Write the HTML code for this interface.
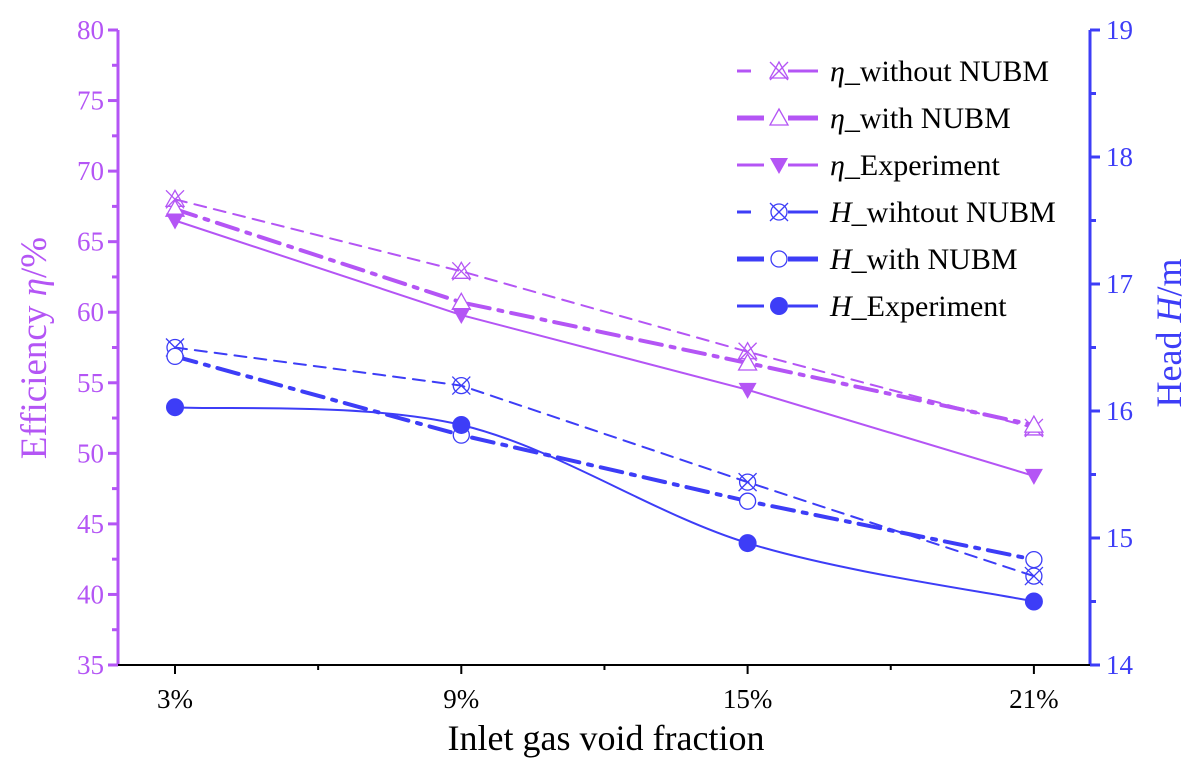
<!DOCTYPE html>
<html><head><meta charset="utf-8"><style>
body{margin:0;background:#fff}
svg text{font-family:"Liberation Serif",serif}
</style></head><body>
<svg id="chart" width="1201" height="768" viewBox="0 0 1201 768" xmlns="http://www.w3.org/2000/svg"></svg>
<script>
const categories=["3%","9%","15%","21%"];
const etaWithout=[68.0,62.9,57.2,51.8];
const etaWith=[67.3,60.7,56.4,52.0];
const etaExp=[66.5,59.8,54.5,48.4];
const hWithout=[16.50,16.20,15.44,14.70];
const hWith=[16.43,15.81,15.29,14.83];
const hExp=[16.03,15.89,14.96,14.50];
const leftTicks=[35,40,45,50,55,60,65,70,75,80];
const rightTicks=[14,15,16,17,18,19];

const P="#b455f5",B="#3d3df7";
const X0=118,X1=1090,Y0=665,Y1=30;
const xs=i=>175+i*286.3;
const yl=v=>Y0-(v-35)/45*(Y0-Y1);
const yr=v=>Y0-(v-14)/5*(Y0-Y1);
const svg=document.getElementById('chart');
const NS="http://www.w3.org/2000/svg";
function el(t,a,p){const e=document.createElementNS(NS,t);for(const k in a)e.setAttribute(k,a[k]);(p||svg).appendChild(e);return e;}

let g=el('g',{});

el('line',{x1:X0,y1:Y1,x2:X0,y2:Y0,stroke:P,'stroke-width':3},g);
leftTicks.forEach(v=>{
  el('line',{x1:X0-10,y1:yl(v),x2:X0,y2:yl(v),stroke:P,'stroke-width':3},g);
  if(v<80) el('line',{x1:X0-6,y1:yl(v+2.5),x2:X0,y2:yl(v+2.5),stroke:P,'stroke-width':3},g);
  const t=el('text',{x:X0-14,y:yl(v)+9,'text-anchor':'end','font-size':27,fill:P},g);t.textContent=v;
  
});
g=el('g',{});

el('line',{x1:X1,y1:Y1,x2:X1,y2:Y0,stroke:B,'stroke-width':3},g);
rightTicks.forEach(v=>{
  el('line',{x1:X1,y1:yr(v),x2:X1+10,y2:yr(v),stroke:B,'stroke-width':3},g);
  if(v<19) el('line',{x1:X1,y1:yr(v+0.5),x2:X1+6,y2:yr(v+0.5),stroke:B,'stroke-width':3},g);
  const t=el('text',{x:X1+16,y:yr(v)+9,'font-size':27,fill:B},g);t.textContent=v;
  
});
g=el('g',{});

el('line',{x1:X0,y1:Y0,x2:X1,y2:Y0,stroke:'#000','stroke-width':2},g);
categories.forEach((c,i)=>{
  el('line',{x1:xs(i),y1:Y0,x2:xs(i),y2:Y0+9,stroke:'#000','stroke-width':2},g);
  if(i<3) el('line',{x1:xs(i+0.5),y1:Y0,x2:xs(i+0.5),y2:Y0+5,stroke:'#000','stroke-width':2},g);
  const t=el('text',{x:xs(i),y:Y0+43,'text-anchor':'middle','font-size':27,fill:'#000'},g);t.textContent=c;
  
});
let t=el('text',{x:606,y:750,'text-anchor':'middle','font-size':36,fill:'#000'});
t.textContent="Inlet gas void fraction";
t=el('text',{transform:'translate(46,348) rotate(-90)','text-anchor':'middle','font-size':37,fill:P});
t.innerHTML='Efficiency <tspan font-style="italic">η</tspan>/%';
t=el('text',{transform:'translate(1181,333) rotate(-90)','text-anchor':'middle','font-size':36,fill:B});
t.innerHTML='Head <tspan font-style="italic">H</tspan>/m';

function marker(type,x,y,c,p){
  const m=el('g',{},p);
  if(type==='xtri'){el('polygon',{points:`${x},${y-9} ${x-9},${y+7} ${x+9},${y+7}`,fill:'none',stroke:c,'stroke-width':1.3},m);
    el('line',{x1:x-9,y1:y-9,x2:x+9,y2:y+9,stroke:c,'stroke-width':1.3},m);el('line',{x1:x+9,y1:y-9,x2:x-9,y2:y+9,stroke:c,'stroke-width':1.3},m);}
  if(type==='tri')el('polygon',{points:`${x},${y-9} ${x-9},${y+7} ${x+9},${y+7}`,fill:'#fff',stroke:c,'stroke-width':1.3},m);
  if(type==='dtri')el('polygon',{points:`${x-9},${y-7} ${x+9},${y-7} ${x},${y+9}`,fill:c},m);
  if(type==='xcirc'){el('circle',{cx:x,cy:y,r:8,fill:'none',stroke:c,'stroke-width':1.3},m);
    el('line',{x1:x-9,y1:y-9,x2:x+9,y2:y+9,stroke:c,'stroke-width':1.3},m);el('line',{x1:x+9,y1:y-9,x2:x-9,y2:y+9,stroke:c,'stroke-width':1.3},m);}
  if(type==='circ')el('circle',{cx:x,cy:y,r:8,fill:'#fff',stroke:c,'stroke-width':1.3},m);
  if(type==='fcirc')el('circle',{cx:x,cy:y,r:9,fill:c},m);
  return m;
}
function spline(pts){
  let d=`M${pts[0][0]},${pts[0][1]}`;
  for(let i=0;i<pts.length-1;i++){
    const p0=pts[Math.max(i-1,0)],p1=pts[i],p2=pts[i+1],p3=pts[Math.min(i+2,pts.length-1)];
    d+=` C${p1[0]+(p2[0]-p0[0])/6},${p1[1]+(p2[1]-p0[1])/6} ${p2[0]-(p3[0]-p1[0])/6},${p2[1]-(p3[1]-p1[1])/6} ${p2[0]},${p2[1]}`;
  }
  return d;
}
const series=[
 {name:'eta-without-nubm',vals:etaWithout,ax:yl,c:P,w:2,dash:'12,8',m:'xtri'},
 {name:'eta-with-nubm',vals:etaWith,ax:yl,c:P,w:4,dash:'22,9,4,9',m:'tri'},
 {name:'eta-experiment',vals:etaExp,ax:yl,c:P,w:2,dash:'',m:'dtri'},
 {name:'h-without-nubm',vals:hWithout,ax:yr,c:B,w:2,dash:'12,8',m:'xcirc'},
 {name:'h-with-nubm',vals:hWith,ax:yr,c:B,w:4,dash:'22,9,4,9',m:'circ',},
 {name:'h-experiment',vals:hExp,ax:yr,c:B,w:2,dash:'',m:'fcirc',smooth:true},
];
series.forEach(s=>{
  const gg=el('g',{});
  
  const pts=s.vals.map((v,i)=>[xs(i),s.ax(v)]);
  const d=s.smooth?spline(pts):'M'+pts.map(p=>p.join(',')).join(' L');
  const path=el('path',{d,fill:'none',stroke:s.c,'stroke-width':s.w,'stroke-dasharray':s.dash,'stroke-linecap':'round'},gg);
  
  pts.forEach(p=>{const m=marker(s.m,p[0],p[1],s.c,gg);
    });
});
const legend=el('g',{});

const labels=[['η','_without NUBM'],['η','_with NUBM'],['η','_Experiment'],['H','_wihtout NUBM'],['H','_with NUBM'],['H','_Experiment']];
series.forEach((s,i)=>{
  const y=71+i*47;
  const e=el('g',{},legend);
  
  el('line',{x1:788,y1:y,x2:818,y2:y,stroke:s.c,'stroke-width':s.w+1},e);
  if(s.dash && s.w<3) el('line',{x1:737,y1:y,x2:751,y2:y,stroke:s.c,'stroke-width':s.w+1},e);
  else el('line',{x1:737,y1:y,x2:764,y2:y,stroke:s.c,'stroke-width':s.w+1},e);
  marker(s.m,779,y,s.c,e);
  const tt=el('text',{x:830,y:y+10,'font-size':30,fill:'#000'},e);
  tt.innerHTML=`<tspan font-style="italic">${labels[i][0]}</tspan>${labels[i][1]}`;
});
</script>
</body></html>
